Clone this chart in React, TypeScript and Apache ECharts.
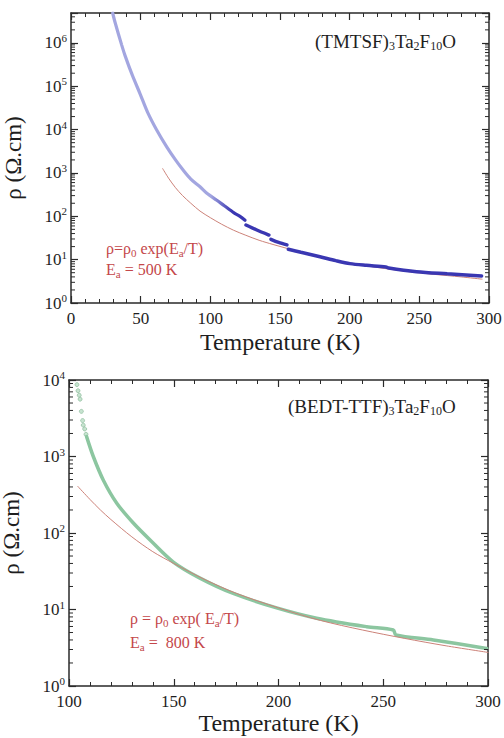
import React, { useEffect, useRef } from 'react';
import * as echarts from 'echarts';

const FONT = 'Liberation Serif';
const INK = '#1e1e1e';
const FRAME = '#2a2a2a';

// ---------- Top panel: (TMTSF)3Ta2F10O ----------
const tmtsfSeg1T = [29.9, 31.6, 36.4, 38.8, 44, 49.5, 55, 61.5, 68.7, 75, 80.6, 86, 92.6, 98, 104.6, 110, 117, 121.3, 124.9];
const tmtsfSeg1Rho = [4.9e6, 3.0e6, 8.9e5, 5.1e5, 1.8e5, 6.8e4, 2.5e4, 9.8e3, 4.0e3, 2.0e3, 1150, 720, 480, 330, 235, 175, 120, 100, 81];
const tmtsfSeg2T = [125.6, 133, 142];
const tmtsfSeg2Rho = [63, 49, 37];
const tmtsfSeg3T = [143.5, 149, 155];
const tmtsfSeg3Rho = [29.5, 25, 21.9];
const tmtsfSeg4T = [156, 165, 178.7, 190, 200.2, 212, 226, 228, 248, 270, 294.7];
const tmtsfSeg4Rho = [17.4, 14.8, 11.7, 9.5, 8.1, 7.4, 6.8, 6.4, 5.25, 4.7, 4.2];
const tmtsfFitT = [65.8, 70, 75, 80, 86, 92.6, 100, 108, 116.5, 125, 135, 145, 155, 170, 185, 200, 220, 240, 260, 280, 295];
const tmtsfFitRho = [1260, 760, 457, 302, 200, 132, 93, 66, 48, 37, 28, 22.4, 18.2, 13.2, 10.2, 8.3, 6.6, 5.4, 4.6, 4.0, 3.55];

// ---------- Bottom panel: (BEDT-TTF)3Ta2F10O ----------
const bedtDotsT = [103.8, 104.3, 104.9, 105.3, 105.9, 106.5, 106.8, 107.5, 108.1];
const bedtDotsRho = [8700, 7240, 6310, 5620, 3890, 2950, 2570, 2290, 1950];
const bedtLineT = [108.4, 111.6, 116.4, 122.8, 130.7, 138.7, 149.8, 162.5, 178.4, 199.1, 218.2, 242.1, 254.8, 256, 273.9, 299.4];
const bedtLineRho = [1820, 1000, 490, 245, 135, 81, 41.7, 25.7, 16.2, 10.5, 7.7, 5.96, 5.4, 4.65, 4.0, 3.1];
const bedtFitT = [104.2, 110, 115, 120, 130, 140, 150, 165, 180, 200, 220, 240, 260, 280, 300];
const bedtFitRho = [407, 275, 200, 150, 89, 57, 40, 24.5, 16.2, 10.5, 7.2, 5.4, 4.2, 3.35, 2.75];

const xTicks = { top: { min: 0, max: 300 }, bottom: { min: 100, max: 300 } };
const yDecades = { top: { max: Math.log10(4.9e6) }, bottom: { max: 4 } };

const pairs = (t: number[], r: number[]) => t.map((x, i) => [x, Math.log10(r[i])]);

const minorLogValues = (maxLog: number) => {
  const out: number[] = [];
  for (let k = 0; k <= Math.ceil(maxLog); k++) {
    for (let m = 2; m <= 9; m++) {
      const v = k + Math.log10(m);
      if (v < maxLog) out.push(v);
    }
  }
  return out;
};

const tickLine = { color: FRAME, width: 1.2 };
const axisTick = { show: true, inside: true, length: 7, lineStyle: tickLine };
const minorTick = { show: true, splitNumber: 5, length: 4, lineStyle: { color: FRAME, width: 1 } };

const makeX = (gridIndex: number, min: number, max: number, nameGap: number) => [
  {
    type: 'value', gridIndex, min, max, interval: 50, position: 'bottom',
    splitLine: { show: false },
    axisLine: { show: true, onZero: false, lineStyle: { color: FRAME, width: 1.5 } },
    axisTick, minorTick,
    axisLabel: {
      show: true, margin: 7, fontFamily: FONT, fontSize: 17, color: INK,
      formatter: (v: number) => `{t|${v}}`,
      rich: { t: { fontFamily: FONT, fontSize: 17, color: INK } },
    },
    name: '{n|Temperature (K)}', nameLocation: 'middle', nameGap,
    nameTextStyle: {
      fontFamily: FONT, fontSize: 24, color: INK,
      rich: { n: { fontFamily: FONT, fontSize: 24, color: INK } },
    },
  },
  {
    type: 'value', gridIndex, min, max, interval: 50, position: 'top',
    splitLine: { show: false },
    axisLine: { show: true, onZero: false, lineStyle: { color: FRAME, width: 1.5 } },
    axisTick, minorTick,
    axisLabel: { show: false },
  },
];

const decadeFormatter = (v: number) =>
  Math.abs(v - Math.round(v)) < 1e-6 ? `{b|10}{s|${Math.round(v)}}` : '';

const makeY = (gridIndex: number, max: number) => [
  {
    type: 'value', gridIndex, min: 0, max, interval: 1, position: 'left',
    splitLine: { show: false },
    axisLine: { show: true, onZero: false, lineStyle: { color: FRAME, width: 1.5 } },
    axisTick,
    axisLabel: {
      show: true, margin: 4, formatter: decadeFormatter, color: INK, fontFamily: FONT,
      rich: {
        b: { fontFamily: FONT, fontSize: 17, lineHeight: 21, color: INK },
        s: { fontFamily: FONT, fontSize: 11, lineHeight: 11, verticalAlign: 'top', color: INK },
      },
    },
    name: '{n|ρ (Ω.cm)}', nameLocation: 'middle', nameGap: 46,
    nameTextStyle: {
      fontFamily: FONT, fontSize: 23, color: INK,
      rich: { n: { fontFamily: FONT, fontSize: 23, color: INK } },
    },
  },
  {
    type: 'value', gridIndex, min: 0, max, interval: 1, position: 'right',
    splitLine: { show: false },
    axisLine: { show: true, onZero: false, lineStyle: { color: FRAME, width: 1.5 } },
    axisTick,
    axisLabel: { show: false },
  },
];

const minorSeries = (xIdx: number, yIdx: number, xMin: number, xMax: number, maxLog: number) => ({
  type: 'custom', xAxisIndex: xIdx, yAxisIndex: yIdx, silent: true, z: 5,
  data: minorLogValues(maxLog).map((v) => [xMin, v]),
  renderItem: (_p: any, api: any) => {
    const v = api.value(1);
    const pL = api.coord([xMin, v]);
    const pR = api.coord([xMax, v]);
    return {
      type: 'group',
      children: [
        { type: 'line', shape: { x1: pL[0], y1: pL[1], x2: pL[0] + 4, y2: pL[1] }, style: { stroke: FRAME, lineWidth: 1 } },
        { type: 'line', shape: { x1: pR[0] - 4, y1: pR[1], x2: pR[0], y2: pR[1] }, style: { stroke: FRAME, lineWidth: 1 } },
      ],
    };
  },
});

const BLUE_LIGHT = '#a3a6e0';
const BLUE_DARK = '#3a37b2';
const GREEN = '#8cc6a0';
const FIT_RED = '#cc8279';
const TEXT_RED = '#c4474a';

const lineSeries = (data: number[][], xIdx: number, yIdx: number, color: any, width: number) => ({
  type: 'line', xAxisIndex: xIdx, yAxisIndex: yIdx, data, showSymbol: false, smooth: 0.3,
  lineStyle: { color, width, cap: 'round' }, silent: true, z: 3,
});

const redRich = {
  r: { fontFamily: FONT, fontSize: 16, lineHeight: 20, fill: TEXT_RED },
  rs: { fontFamily: FONT, fontSize: 11, lineHeight: 11, verticalAlign: 'bottom', fill: TEXT_RED },
};
const titleRich = {
  m: { fontFamily: FONT, fontSize: 19, lineHeight: 22, fill: INK },
  s: { fontFamily: FONT, fontSize: 12, lineHeight: 12, verticalAlign: 'bottom', fill: INK },
};

export default function App() {
  const ref = useRef<HTMLDivElement>(null);
  useEffect(() => {
    if (!ref.current) return;
    const chart = echarts.init(ref.current, undefined, { renderer: 'svg' });
    const seg1Gradient = new echarts.graphic.LinearGradient(0, 0, 1, 0, [
      { offset: 0, color: BLUE_LIGHT },
      { offset: 0.74, color: BLUE_LIGHT },
      { offset: 0.9, color: BLUE_DARK },
      { offset: 1, color: BLUE_DARK },
    ]);
    chart.setOption({
      animation: false,
      backgroundColor: '#ffffff',
      textStyle: { fontFamily: FONT },
      grid: [
        { left: 71, right: 15, top: 13, height: 290, outerBoundsMode: 'none', containLabel: false },
        { left: 69, right: 16, top: 380, height: 306, outerBoundsMode: 'none', containLabel: false },
      ],
      xAxis: [
        ...makeX(0, xTicks.top.min, xTicks.top.max, 27),
        ...makeX(1, xTicks.bottom.min, xTicks.bottom.max, 24),
      ],
      yAxis: [
        ...makeY(0, yDecades.top.max),
        ...makeY(1, yDecades.bottom.max),
      ],
      series: [
        minorSeries(0, 0, xTicks.top.min, xTicks.top.max, yDecades.top.max),
        minorSeries(2, 2, xTicks.bottom.min, xTicks.bottom.max, yDecades.bottom.max),
        lineSeries(pairs(tmtsfFitT, tmtsfFitRho), 0, 0, FIT_RED, 1),
        lineSeries(pairs(tmtsfSeg1T, tmtsfSeg1Rho), 0, 0, seg1Gradient, 3.2),
        lineSeries(pairs(tmtsfSeg2T, tmtsfSeg2Rho), 0, 0, BLUE_DARK, 3.5),
        lineSeries(pairs(tmtsfSeg3T, tmtsfSeg3Rho), 0, 0, BLUE_DARK, 3.5),
        lineSeries(pairs(tmtsfSeg4T, tmtsfSeg4Rho), 0, 0, BLUE_DARK, 3.5),
        lineSeries(pairs(bedtLineT, bedtLineRho), 2, 2, GREEN, 3.5),
        lineSeries(pairs(bedtFitT, bedtFitRho), 2, 2, FIT_RED, 1),
        {
          type: 'scatter', xAxisIndex: 2, yAxisIndex: 2, data: pairs(bedtDotsT, bedtDotsRho),
          symbol: 'circle', symbolSize: 4, silent: true,
          itemStyle: { color: '#b9dcc4', borderColor: '#86b895', borderWidth: 0.8 },
        },
      ],
      graphic: [
        {
          type: 'text', x: 315, y: 41,
          style: { text: '{m|(TMTSF)}{s|3}{m|Ta}{s|2}{m|F}{s|10}{m|O}', rich: titleRich, verticalAlign: 'middle', fill: INK, fontFamily: FONT },
        },
        {
          type: 'text', x: 288, y: 406,
          style: { text: '{m|(BEDT-TTF)}{s|3}{m|Ta}{s|2}{m|F}{s|10}{m|O}', rich: titleRich, verticalAlign: 'middle', fill: INK, fontFamily: FONT },
        },
        {
          type: 'text', x: 106, y: 248,
          style: { text: '{r|ρ=ρ}{rs|0}{r| exp(E}{rs|a}{r|/T)}', rich: redRich, verticalAlign: 'middle', fill: TEXT_RED, fontFamily: FONT },
        },
        {
          type: 'text', x: 106, y: 269,
          style: { text: '{r|E}{rs|a}{r| = 500 K}', rich: redRich, verticalAlign: 'middle', fill: TEXT_RED, fontFamily: FONT },
        },
        {
          type: 'text', x: 130, y: 618,
          style: { text: '{r|ρ = ρ}{rs|0}{r| exp( E}{rs|a}{r|/T)}', rich: redRich, verticalAlign: 'middle', fill: TEXT_RED, fontFamily: FONT },
        },
        {
          type: 'text', x: 130, y: 642,
          style: { text: '{r|E}{rs|a}{r| =  800 K}', rich: redRich, verticalAlign: 'middle', fill: TEXT_RED, fontFamily: FONT },
        },
      ],
    });
    return () => chart.dispose();
  }, []);
  return (
    <div
      ref={ref}
      style={{ position: 'fixed', left: 0, top: 0, width: 504, height: 738, background: '#fff' }}
    />
  );
}
